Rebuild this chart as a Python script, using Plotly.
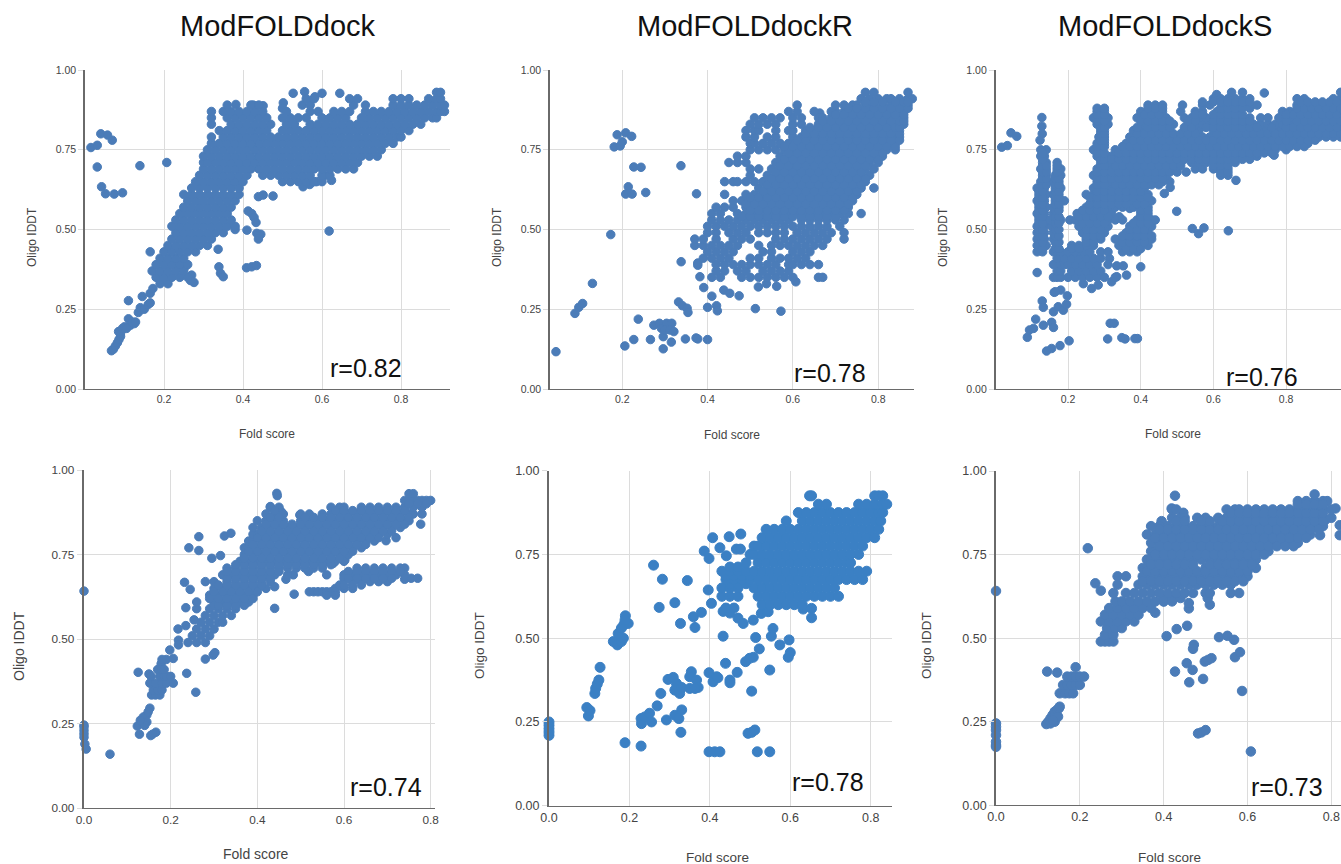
import plotly.graph_objects as go

titles = ["ModFOLDdock", "ModFOLDdockR", "ModFOLDdockS"]
r_labels = ["r=0.82", "r=0.78", "r=0.76", "r=0.74", "r=0.78", "r=0.73"]
x_ticks = [0.2, 0.4, 0.6, 0.8]
x_ticks_zero = [0.0, 0.2, 0.4, 0.6, 0.8]
y_ticks = [0.0, 0.25, 0.5, 0.75, 1.0]

# --- ModFOLDdock, top row: isolated points
p1_x = [.015,.031,.04,.057,.069,.031,.042,.052,.074,.095,.11,.139,.207,.165,.618,.38,.41,.413,.422,.428,.433,.435,.445,.439,.409,.422,.434,.337,.339,.343,.35,.27,.276,.267,.24,.253,.624,.607,.476,.451,.439,.552,.569,.586,.527,.556,.6,.582,.645,.502,.5,.382,.426,.451,
        .067,.072,.077,.082,.086,.09,.09,.085,.095,.11,.115,.125,.135,.14,.15,.16,.145,.165,.165,.172,.1,.105,.12,.128]
p1_y = [.757,.764,.8,.796,.78,.696,.634,.612,.611,.615,.277,.7,.71,.43,.495,.5,.498,.558,.55,.538,.522,.488,.485,.47,.38,.383,.387,.438,.383,.363,.352,.357,.334,.34,.389,.383,.654,.669,.605,.608,.603,.634,.641,.65,.927,.932,.927,.916,.927,.897,.88,.892,.89,.888,
        .12,.125,.135,.145,.155,.165,.175,.18,.19,.22,.2,.205,.24,.255,.25,.265,.29,.27,.3,.315,.195,.19,.21,.21]
# ModFOLDdock: dense cloud, each row is an Oligo lDDT level and the Fold scores seen there
p1_rows = [
 (.33,[.19,.21]),
 (.35,[.18,.2,.22,.24,.26]),
 (.37,[.17,.19,.21,.23,.25]),
 (.39,[.18,.2,.22,.24,.26]),
 (.41,[.19,.21,.23,.25]),
 (.43,[.2,.22,.24,.26,.28]),
 (.45,[.21,.23,.25,.27,.29,.31]),
 (.47,[.22,.24,.26,.28,.3,.32]),
 (.49,[.23,.25,.27,.29,.31,.33,.35]),
 (.51,[.22,.24,.26,.28,.3,.32,.34,.36,.38]),
 (.53,[.23,.25,.27,.29,.31,.33,.35,.37]),
 (.55,[.24,.26,.28,.3,.32,.34,.36]),
 (.57,[.25,.27,.29,.31,.33,.35,.37]),
 (.59,[.26,.28,.3,.32,.34,.36,.38]),
 (.61,[.25,.27,.29,.31,.33,.35,.37,.39]),
 (.63,[.27,.29,.31,.33,.35,.37,.39]),
 (.65,[.28,.3,.32,.34,.36,.38,.4,.5,.52,.54,.56,.58,.6]),
 (.67,[.29,.31,.33,.35,.37,.39,.41,.45,.47,.49,.51,.53,.55,.57,.6,.62]),
 (.69,[.3,.32,.34,.36,.38,.4,.42,.44,.46,.48,.5,.52,.54,.56,.58,.6,.62,.64,.66,.68]),
 (.71,[.3,.31,.33,.35,.37,.39,.41,.43,.45,.47,.49,.51,.53,.55,.57,.59,.61,.63,.65,.67,.69]),
 (.73,[.3,.32,.34,.36,.38,.4,.42,.44,.46,.48,.5,.52,.54,.56,.58,.6,.62,.64,.66,.68,.7,.72,.74]),
 (.75,[.31,.33,.35,.37,.39,.41,.43,.45,.47,.49,.51,.53,.55,.57,.59,.61,.63,.65,.67,.69,.71,.73,.75]),
 (.77,[.32,.34,.36,.38,.4,.42,.44,.46,.48,.5,.52,.54,.56,.58,.6,.62,.64,.66,.68,.7,.72,.74,.76,.78]),
 (.79,[.32,.35,.37,.39,.41,.43,.45,.47,.49,.51,.53,.55,.57,.59,.61,.63,.65,.67,.69,.71,.73,.75,.77,.79,.8]),
 (.81,[.34,.36,.38,.4,.42,.44,.46,.5,.52,.54,.56,.58,.6,.62,.64,.66,.68,.7,.72,.74,.76,.78,.8,.82]),
 (.83,[.32,.37,.39,.41,.43,.45,.47,.51,.53,.57,.59,.61,.63,.65,.67,.69,.71,.73,.75,.77,.79,.81,.83,.85]),
 (.85,[.32,.36,.38,.4,.42,.44,.46,.5,.52,.54,.56,.6,.62,.64,.66,.7,.72,.74,.76,.78,.8,.82,.84,.86,.88,.89]),
 (.87,[.32,.35,.37,.39,.41,.43,.45,.51,.57,.59,.63,.65,.67,.71,.73,.75,.77,.79,.81,.83,.85,.87,.89,.9,.91]),
 (.89,[.36,.42,.44,.55,.57,.68,.71,.78,.8,.82,.84,.86,.88,.9,.91]),
 (.91,[.56,.58,.67,.69,.78,.8,.82,.87,.89,.9]),
 (.93,[.89,.9]),
]

# --- ModFOLDdockR, top row
p2_x = [.0445,.089,.098,.107,.13,.173,.181,.195,.188,.2,.208,.222,.227,.244,.214,.208,.223,.255,.3375,.374,.206,.227,.2375,.266,.296,.315,.296,.348,.373,.377,.4,.274,.287,.292,.304,.316,.3,.312,.321,.332,.341,.352,.354,.4,.421,.423,.41,.391,.438,.452,.474,.512,.572,.338,.382,.377,.377,.519,.538,.562,.607,.663]
p2_y = [.117,.237,.256,.268,.331,.484,.759,.762,.797,.775,.803,.792,.696,.695,.634,.611,.611,.616,.7,.612,.135,.155,.219,.155,.126,.147,.164,.157,.16,.157,.155,.2,.206,.19,.206,.206,.185,.185,.18,.273,.261,.253,.24,.256,.261,.245,.291,.318,.31,.3,.292,.252,.244,.399,.352,.388,.395,.32,.33,.322,.336,.865]
p2_rows = [
 (.35,[.41,.43,.48,.5,.52,.54,.56,.58,.6,.66,.67]),
 (.37,[.42,.44,.47,.49,.53,.55,.57,.59]),
 (.39,[.42,.44,.46,.48,.5,.52,.54,.56,.59,.6,.62,.64,.66]),
 (.41,[.39,.41,.43,.45,.5,.52,.55,.57,.59,.61,.63]),
 (.43,[.4,.42,.44,.46,.53,.55,.6,.62,.64]),
 (.45,[.37,.39,.41,.43,.45,.47,.52,.55,.57,.59,.61,.63,.65,.67]),
 (.47,[.37,.39,.42,.46,.48,.5,.56,.58,.6,.62,.64,.66,.68,.72]),
 (.49,[.4,.42,.45,.47,.49,.52,.54,.56,.58,.61,.63,.65,.67,.69,.72]),
 (.51,[.4,.42,.44,.46,.48,.5,.52,.54,.56,.58,.6,.62,.64,.66,.68,.71]),
 (.53,[.41,.43,.45,.47,.49,.51,.53,.55,.57,.59,.62,.64,.66,.68,.7,.72]),
 (.55,[.41,.43,.47,.49,.51,.53,.55,.57,.59,.61,.63,.65,.67,.69,.71,.73,.76]),
 (.57,[.42,.44,.46,.49,.51,.53,.55,.57,.59,.61,.63,.65,.67,.69,.71,.73]),
 (.59,[.46,.48,.5,.52,.54,.56,.58,.6,.62,.64,.66,.68,.7,.72,.74]),
 (.61,[.44,.49,.51,.53,.55,.57,.59,.61,.63,.65,.67,.69,.71,.73,.75]),
 (.63,[.52,.54,.56,.58,.6,.62,.64,.66,.68,.7,.72,.74,.76,.79]),
 (.65,[.44,.46,.47,.49,.51,.53,.55,.57,.59,.61,.63,.65,.67,.69,.71,.73,.75,.77]),
 (.67,[.5,.54,.56,.58,.6,.62,.64,.66,.68,.7,.72,.74,.76,.78]),
 (.69,[.5,.52,.55,.57,.59,.61,.63,.65,.67,.69,.71,.73,.75,.77,.79]),
 (.71,[.45,.47,.49,.56,.58,.6,.62,.64,.66,.68,.7,.72,.74,.76,.78,.8]),
 (.73,[.47,.49,.57,.59,.61,.63,.65,.67,.69,.71,.73,.75,.77,.79,.81]),
 (.75,[.5,.52,.54,.56,.58,.6,.62,.64,.66,.68,.7,.72,.74,.76,.78,.8,.82,.84]),
 (.77,[.5,.51,.53,.55,.57,.59,.61,.63,.65,.67,.69,.71,.73,.75,.77,.79,.81,.83,.84]),
 (.79,[.49,.51,.54,.56,.6,.62,.64,.66,.68,.7,.72,.74,.76,.78,.8,.82,.84,.85]),
 (.81,[.49,.51,.52,.56,.59,.6,.63,.65,.67,.69,.71,.73,.75,.77,.79,.81,.83,.85]),
 (.83,[.5,.52,.54,.56,.6,.62,.66,.68,.7,.72,.74,.76,.78,.8,.82,.84,.86]),
 (.85,[.51,.53,.55,.57,.6,.62,.66,.67,.69,.71,.73,.75,.77,.79,.81,.83,.85,.86]),
 (.87,[.59,.61,.65,.69,.7,.72,.74,.76,.78,.8,.82,.84,.85,.86]),
 (.89,[.61,.7,.72,.74,.75,.77,.79,.81,.83,.85,.86,.87]),
 (.91,[.76,.78,.8,.82,.83,.85,.87,.88]),
 (.93,[.77,.79,.87]),
 (.54,[.48,.5,.52,.54,.56,.58,.6,.62,.64,.66,.68,.7]),
 (.56,[.5,.52,.54,.56,.58,.6,.62,.64,.66,.68,.7,.72]),
 (.58,[.49,.51,.53,.55,.57,.59,.61,.63,.65,.67,.69,.71,.73]),
 (.6,[.5,.52,.54,.56,.58,.6,.62,.64,.66,.68,.7,.72,.74]),
 (.62,[.53,.55,.57,.59,.61,.63,.65,.67,.69,.71,.73,.75]),
 (.64,[.54,.56,.58,.6,.62,.64,.66,.68,.7,.72,.74,.76]),
 (.66,[.55,.57,.59,.61,.63,.65,.67,.69,.71,.73,.75,.77]),
 (.68,[.56,.58,.6,.62,.64,.66,.68,.7,.72,.74,.76]),
 (.7,[.57,.59,.61,.63,.65,.67,.69,.71,.73,.75,.77]),
 (.72,[.58,.6,.62,.64,.66,.68,.7,.72,.74,.76,.78,.8]),
 (.74,[.59,.61,.63,.65,.67,.69,.71,.73,.75,.77,.79,.81]),
 (.76,[.58,.6,.62,.64,.66,.68,.7,.72,.74,.76,.78,.8,.82,.84]),
 (.78,[.61,.63,.65,.67,.69,.71,.73,.75,.77,.79,.81,.83,.85]),
 (.8,[.63,.65,.67,.69,.71,.73,.75,.77,.79,.81,.83,.85]),
 (.82,[.64,.66,.68,.7,.72,.74,.76,.78,.8,.82,.84,.85]),
 (.84,[.67,.69,.71,.73,.75,.77,.79,.81,.83,.85,.86]),
 (.86,[.7,.72,.74,.76,.78,.8,.82,.84,.86]),
 (.88,[.73,.75,.77,.79,.81,.83,.85,.87]),
 (.9,[.77,.79,.81,.84,.86,.87]),
]

# --- ModFOLDdockS, top row
p3_x = [.0175,.033,.043,.059,.088,.094,.105,.111,.132,.129,.132,.115,.141,.155,.178,.203,.155,.16,.16,.173,.187,.198,.196,.162,.309,.316,.327,.348,.357,.384,.391,.4,.361,.32,.334,.334,.352,.314,.499,.542,.559,.574,.641,.341,.37,.662,.525,.465,.481,.767,.609,.74,.128,.128,.129,.123,.18,.165,.242,.265,.283]
p3_y = [.758,.763,.803,.792,.162,.185,.19,.219,.2,.276,.256,.365,.119,.127,.136,.151,.209,.193,.242,.258,.247,.292,.266,.303,.157,.206,.206,.161,.157,.158,.158,.383,.357,.336,.352,.386,.386,.409,.557,.503,.487,.505,.496,.54,.566,.654,.68,.613,.632,.733,.923,.928,.851,.824,.8,.78,.31,.305,.33,.315,.326]
p3_rows = [
 (.35,[.16,.17,.18,.2,.22,.24,.26,.28,.3,.33]),
 (.37,[.17,.18,.21,.23,.25,.27,.29]),
 (.39,[.16,.18,.19,.2,.22,.24,.26,.28,.31]),
 (.41,[.17,.19,.21,.23,.25,.27,.29]),
 (.43,[.115,.13,.16,.18,.2,.22,.24,.26,.29,.31,.35,.37,.39]),
 (.45,[.115,.125,.14,.17,.21,.23,.25,.27,.34,.36,.38,.4,.42]),
 (.47,[.115,.125,.135,.16,.17,.25,.27,.29,.33,.35,.37,.39,.41,.43]),
 (.49,[.115,.125,.135,.16,.17,.24,.26,.28,.3,.36,.38,.4,.42]),
 (.51,[.115,.125,.135,.155,.17,.23,.25,.27,.29,.31,.37,.39,.41,.43]),
 (.53,[.12,.13,.14,.15,.165,.18,.205,.22,.24,.26,.28,.31,.33,.35,.39,.41,.43,.44]),
 (.55,[.115,.125,.135,.16,.17,.225,.245,.265,.285,.3,.32,.4,.42]),
 (.57,[.12,.13,.14,.16,.175,.25,.27,.29,.31,.33,.35,.38,.4,.42]),
 (.59,[.115,.125,.135,.165,.18,.19,.27,.29,.31,.33,.35,.37,.39,.41,.43]),
 (.61,[.12,.13,.14,.16,.175,.25,.27,.29,.31,.33,.35,.37,.4,.42]),
 (.63,[.115,.125,.135,.165,.18,.27,.29,.31,.33,.35,.37,.39,.41]),
 (.65,[.125,.14,.16,.175,.28,.3,.32,.34,.36,.38,.4,.42,.44,.46,.48]),
 (.67,[.13,.14,.165,.18,.27,.29,.31,.33,.35,.37,.39,.41,.43,.45,.47,.62,.64]),
 (.69,[.125,.14,.17,.18,.28,.3,.32,.34,.36,.38,.4,.42,.44,.46,.48,.5,.55,.57,.6,.62,.64]),
 (.71,[.13,.14,.17,.29,.31,.33,.35,.37,.39,.41,.43,.45,.47,.49,.51,.54,.56,.58,.61,.63,.66]),
 (.73,[.125,.135,.28,.3,.32,.34,.36,.38,.4,.42,.44,.46,.48,.5,.52,.54,.56,.58,.6,.62,.64,.66,.68,.7,.72]),
 (.75,[.125,.14,.27,.29,.33,.35,.37,.39,.41,.43,.45,.47,.49,.51,.53,.55,.57,.59,.61,.63,.65,.67,.69,.71,.73,.75,.77,.8]),
 (.77,[.28,.3,.36,.38,.4,.42,.44,.46,.48,.5,.52,.54,.56,.58,.6,.62,.64,.66,.68,.7,.72,.74,.76,.78,.8,.82,.84,.86]),
 (.79,[.285,.3,.37,.39,.41,.43,.45,.47,.49,.51,.53,.55,.57,.59,.61,.63,.65,.67,.69,.71,.73,.75,.77,.79,.81,.83,.85,.87,.89,.91,.93,.95]),
 (.81,[.29,.3,.38,.4,.42,.44,.46,.48,.52,.54,.56,.6,.62,.64,.66,.68,.7,.72,.74,.76,.78,.8,.82,.84,.86,.88,.9,.92,.94,.95]),
 (.83,[.28,.3,.31,.41,.43,.45,.47,.49,.53,.55,.57,.59,.61,.63,.65,.67,.69,.71,.73,.75,.77,.79,.81,.83,.85,.87,.89,.91,.93,.95]),
 (.85,[.27,.29,.31,.39,.41,.43,.45,.47,.52,.54,.56,.58,.6,.62,.64,.66,.68,.7,.73,.75,.78,.8,.82,.84,.86,.88,.9,.92,.94,.95]),
 (.87,[.28,.3,.4,.42,.44,.46,.51,.55,.57,.61,.63,.65,.67,.79,.81,.83,.85,.87,.89,.91,.93,.95]),
 (.89,[.42,.44,.46,.515,.57,.59,.63,.65,.67,.7,.72,.83,.85,.87,.89,.91,.93,.95]),
 (.91,[.6,.62,.64,.66,.68,.7,.83,.85,.93,.95]),
 (.93,[.65,.68,.95]),
 (.44,[.12,.13,.165,.175,.21,.23,.36,.38,.4]),
 (.46,[.12,.13,.165,.175,.25,.27,.35,.37,.39,.41]),
 (.48,[.12,.13,.165,.175,.25,.27,.29,.35,.37,.39,.41,.43]),
 (.5,[.12,.13,.165,.175,.25,.27,.29,.37,.39,.41]),
 (.52,[.12,.13,.165,.175,.24,.26,.28,.3,.38,.4,.42]),
 (.54,[.12,.13,.165,.175,.23,.25,.27,.29,.31,.4,.42]),
 (.56,[.12,.13,.165,.175,.24,.26,.28,.3,.4,.42]),
 (.58,[.12,.13,.165,.175,.26,.28,.3,.32,.34,.36,.39,.41]),
 (.6,[.12,.13,.165,.175,.26,.28,.3,.32,.34,.36,.38,.4,.42]),
 (.62,[.12,.13,.165,.175,.28,.3,.32,.34,.36,.38,.4]),
 (.64,[.13,.14,.165,.175,.28,.3,.33,.35,.37,.39,.41,.43,.45]),
 (.66,[.13,.14,.165,.175,.28,.3,.32,.34,.36,.38,.4,.42,.44,.46]),
 (.68,[.13,.14,.17,.28,.3,.32,.34,.36,.38,.4,.42,.44,.46,.48,.5,.62,.64]),
 (.7,[.13,.14,.17,.29,.3,.33,.35,.37,.39,.41,.43,.45,.47,.49,.51,.6,.62,.64]),
 (.72,[.13,.29,.3,.32,.34,.36,.38,.4,.42,.44,.46,.48,.5,.52,.54,.56,.58,.6,.62,.64,.66,.68,.7]),
 (.74,[.13,.28,.3,.34,.36,.38,.4,.42,.44,.46,.48,.5,.52,.54,.56,.58,.6,.62,.64,.66,.68,.7,.72,.74,.76]),
 (.76,[.28,.3,.35,.37,.39,.41,.43,.45,.47,.49,.51,.53,.55,.57,.59,.61,.63,.65,.67,.69,.71,.73,.75,.77,.79,.81,.83,.85]),
 (.78,[.29,.3,.38,.4,.42,.44,.46,.48,.5,.52,.54,.56,.58,.6,.62,.64,.66,.68,.7,.72,.74,.76,.78,.8,.82,.84,.86,.88]),
 (.8,[.29,.3,.39,.41,.43,.45,.47,.49,.51,.53,.55,.61,.63,.65,.67,.69,.71,.73,.75,.77,.79,.81,.83,.85,.87,.89,.91,.93,.95]),
 (.82,[.29,.3,.39,.42,.44,.46,.48,.52,.54,.58,.6,.62,.64,.66,.68,.7,.72,.76,.8,.82,.84,.86,.88,.9,.92,.94]),
 (.84,[.28,.3,.4,.42,.44,.46,.48,.53,.55,.6,.62,.64,.66,.68,.7,.8,.83,.85,.87,.89,.91,.93,.95]),
 (.86,[.28,.3,.41,.43,.45,.55,.57,.6,.62,.64,.66,.68,.8,.82,.84,.86,.88,.9,.92,.94]),
 (.88,[.28,.3,.42,.44,.46,.62,.64,.66,.68,.7,.83,.85,.87,.89,.91,.93,.95]),
 (.9,[.57,.6,.62,.64,.66,.68,.7,.84,.86,.88,.9,.92,.94]),
]

# --- ModFOLDdock, bottom row
p4_x = [0,0,0,0,0,0,.002,.005,.06,.125,.15,.128,.154,.166,.158,.123,.133,.137,.145,.152,.145,.14,.13,.148,.178,.198,.206,.218,.218,.217,.237,.258,.235,.235,.254,.245,.232,.242,.265,.265,.295,.315,.324,.339,.28,.298,.302,.777,.697,.72,.602,.575,.56,.485,.44,.44,.466,.483,.518,.445,.446,.43,.455,.498,.74,.755,.77]
p4_y = [.642,.246,.24,.23,.22,.21,.19,.175,.16,.402,.397,.219,.215,.225,.219,.243,.256,.27,.276,.296,.255,.245,.26,.285,.427,.468,.443,.497,.483,.53,.399,.343,.54,.593,.557,.647,.668,.77,.762,.803,.739,.747,.805,.813,.441,.453,.46,.84,.791,.8,.734,.724,.69,.633,.591,.655,.677,.69,.7,.931,.924,.892,.877,.867,.677,.68,.68]
p4_rows = [
 (.335,[.156,.165,.175]),
 (.35,[.16,.17,.18]),
 (.37,[.152,.165,.18,.19,.206]),
 (.39,[.155,.175,.185,.19,.2]),
 (.41,[.17,.18,.185]),
 (.44,[.18,.19]),
 (.49,[.24,.26,.28]),
 (.51,[.25,.27,.29]),
 (.53,[.26,.28,.3]),
 (.55,[.27,.29,.31,.32]),
 (.57,[.28,.3,.32,.34]),
 (.59,[.26,.29,.31,.33,.35]),
 (.61,[.26,.3,.32,.34,.36,.38]),
 (.63,[.29,.31,.33,.35,.37,.39]),
 (.65,[.3,.32,.34,.36,.38,.4,.42]),
 (.67,[.28,.3,.33,.35,.37,.39,.41,.43]),
 (.69,[.32,.34,.36,.38,.4,.42,.44,.47]),
 (.71,[.33,.35,.37,.39,.41,.43,.45,.47,.49,.51,.53,.55]),
 (.73,[.36,.38,.4,.42,.44,.46,.48,.5,.52,.54,.56,.58,.6]),
 (.75,[.37,.39,.41,.43,.45,.47,.49,.51,.53,.55,.57,.59,.61]),
 (.77,[.37,.38,.4,.42,.44,.46,.48,.5,.52,.54,.56,.58,.6,.62,.64]),
 (.79,[.38,.39,.41,.43,.45,.47,.49,.51,.53,.55,.57,.59,.61,.63,.65,.67]),
 (.81,[.39,.4,.42,.44,.46,.48,.5,.52,.54,.56,.58,.6,.62,.64,.66,.68,.7]),
 (.83,[.39,.41,.43,.45,.47,.49,.51,.53,.55,.57,.59,.61,.63,.65,.67,.69,.71,.73]),
 (.85,[.4,.42,.44,.46,.5,.52,.54,.56,.58,.6,.62,.64,.66,.68,.7,.72,.74,.75]),
 (.87,[.42,.44,.46,.5,.52,.55,.57,.59,.61,.63,.65,.67,.69,.71,.73,.75,.76,.78]),
 (.89,[.43,.45,.57,.59,.6,.64,.66,.68,.7,.72,.74,.76,.78]),
 (.91,[.74,.75,.76,.77,.78,.79,.8]),
 (.93,[.75,.76]),
 (.71,[.63,.65,.67,.69,.71,.73,.74]),
 (.69,[.6,.62,.64,.66,.68,.7,.72,.74]),
 (.67,[.62,.64,.66,.68,.7]),
 (.65,[.58,.6,.62]),
 (.64,[.52,.53,.54,.55,.56,.57,.58]),
 (.63,[.56,.58]),
 (.7,[.61,.63,.65,.67,.69,.71,.73]),
 (.68,[.6,.61,.63,.65,.67,.69,.71]),
 (.66,[.59,.6,.62,.64]),
 (.6,[.3,.31,.33,.35,.37]),
 (.62,[.29,.31,.33,.35,.37,.39]),
 (.64,[.3,.32,.34,.36,.38,.4]),
 (.66,[.31,.33,.35,.37,.39,.41]),
 (.68,[.33,.35,.37,.39,.41,.43]),
 (.7,[.33,.35,.37,.39,.41,.43,.45]),
 (.72,[.35,.37,.39,.41,.43,.45,.47,.49,.51,.53,.55,.57]),
 (.74,[.37,.39,.41,.43,.45,.47,.49,.51,.53,.55,.57,.59]),
 (.76,[.38,.4,.42,.44,.46,.48,.5,.52,.54,.56,.58,.6,.62]),
 (.78,[.39,.41,.43,.45,.47,.49,.51,.53,.55,.57,.59,.61,.63,.65]),
 (.8,[.4,.42,.44,.46,.48,.5,.52,.54,.56,.58,.6,.62,.64,.66,.68]),
 (.82,[.41,.43,.45,.47,.49,.51,.53,.55,.57,.59,.61,.63,.65,.67,.69,.71]),
 (.84,[.42,.44,.46,.48,.5,.52,.54,.56,.58,.6,.62,.64,.66,.68,.7,.72,.74]),
 (.86,[.43,.45,.51,.53,.55,.57,.59,.61,.63,.65,.67,.69,.71,.73,.75]),
 (.88,[.44,.58,.6,.62,.64,.66,.68,.7,.72,.74]),
 (.9,[.75,.77,.79]),
]

# --- ModFOLDdockR, bottom row
p5_x = [0,0,0,0,0,.094,.098,.102,.114,.116,.12,.124,.127,.16,.17,.18,.185,.172,.18,.186,.19,.197,.189,.189,.229,.229,.23,.238,.25,.255,.269,.278,.292,.313,.33,.323,.328,.296,.309,.317,.313,.325,.33,.35,.354,.35,.367,.371,.363,.398,.412,.425,.518,.549,.398,.408,.417,.42,.45,.45,.468,.439,.504,.495,.504,.512,.549,.489,.499,.508,.523,.514,.553,.557,.574,.597,.595,.6,.433,.26,.282,.344,.274,.313,.327,.359,.363,.379,.386,.398,.407,.425,.448,.477,.441,.466,.476,.632,.653,.653,.396,.404,.433,.45,.47,.483,.508,.528,.545]
p5_y = [.25,.24,.23,.22,.21,.293,.268,.284,.335,.35,.363,.375,.413,.49,.48,.49,.5,.514,.53,.54,.567,.544,.554,.188,.178,.26,.245,.265,.276,.25,.298,.335,.256,.27,.286,.26,.219,.377,.383,.365,.345,.335,.353,.35,.4,.385,.375,.353,.35,.161,.161,.161,.161,.161,.397,.37,.385,.382,.375,.367,.398,.425,.342,.216,.219,.226,.405,.43,.44,.443,.468,.502,.506,.529,.48,.495,.443,.457,.506,.718,.676,.672,.592,.606,.544,.564,.532,.577,.76,.738,.8,.77,.803,.811,.746,.766,.766,.587,.589,.561,.644,.604,.58,.575,.56,.544,.554,.574,.579]
p5_rows = [
 (.59,[.44,.46]),
 (.6,[.53,.55,.57,.59,.61,.63]),
 (.625,[.43,.45,.47,.52,.54,.56,.58,.6,.62,.64,.66,.68,.7,.72]),
 (.65,[.43,.45,.47,.51,.53,.55,.57,.59,.61,.63,.65,.67,.69,.71]),
 (.6625,[.45,.47,.49]),
 (.675,[.44,.46,.48,.5,.52,.54,.56,.58,.6,.62,.64,.66,.68,.7,.72,.74,.76,.78]),
 (.6875,[.44,.46,.48,.5]),
 (.7,[.43,.45,.47,.49,.51,.53,.55,.57,.59,.61,.63,.65,.67,.69,.71,.73,.75,.77,.79]),
 (.7125,[.45,.47]),
 (.725,[.49,.52,.54,.56,.58,.6,.62,.64,.66,.68,.7,.72,.74,.75]),
 (.75,[.5,.51,.53,.55,.57,.59,.61,.63,.65,.67,.69,.71,.73,.75,.77]),
 (.775,[.51,.52,.54,.56,.58,.6,.62,.64,.66,.68,.7,.72,.74,.76,.78]),
 (.8,[.53,.55,.57,.59,.61,.63,.65,.67,.69,.71,.73,.75,.77,.79,.81]),
 (.825,[.54,.56,.58,.6,.62,.64,.66,.68,.7,.72,.74,.76,.78,.8,.82]),
 (.85,[.59,.63,.65,.67,.69,.71,.73,.75,.77,.79,.81,.825]),
 (.875,[.62,.64,.66,.68,.7,.72,.74,.76,.78,.8,.82,.83]),
 (.9,[.67,.69,.77,.79,.81,.83,.84]),
 (.925,[.648,.653,.81,.82,.83]),
]

# --- ModFOLDdockS, bottom row
p6_x = [0,0,0,0,0,0,0,0,.122,.146,.219,.237,.25,.12,.125,.13,.135,.14,.145,.15,.152,.13,.14,.148,.135,.427,.419,.447,.395,.407,.427,.431,.456,.46,.455,.469,.461,.494,.472,.47,.498,.506,.514,.532,.552,.568,.57,.582,.587,.608,.482,.49,.5,.81,.82,.82,.785,.773,.38,.4,.42,.5,.56,.58,.51,.46,.505]
p6_y = [.641,.245,.235,.225,.21,.19,.18,.175,.4,.397,.769,.664,.642,.243,.25,.26,.27,.28,.285,.29,.295,.245,.25,.265,.255,.926,.888,.875,.85,.506,.4,.527,.537,.589,.425,.405,.368,.378,.48,.468,.43,.435,.44,.503,.507,.495,.443,.458,.342,.161,.215,.218,.225,.888,.838,.808,.853,.808,.576,.61,.615,.635,.635,.635,.6,.605,.62]
p6_rows = [
 (.335,[.152,.165,.175,.184]),
 (.36,[.16,.17,.18,.19,.2]),
 (.385,[.17,.18,.19,.2,.21]),
 (.413,[.19]),
 (.49,[.25,.26,.27,.28]),
 (.51,[.26,.28]),
 (.53,[.265,.285,.3]),
 (.55,[.25,.27,.29,.31,.33]),
 (.57,[.26,.28,.3,.32,.34]),
 (.59,[.27,.29,.31,.33,.35,.37]),
 (.61,[.285,.3,.32,.34,.36,.38,.4,.42]),
 (.62,[.4,.42,.44]),
 (.635,[.28,.31,.33,.35,.37,.39,.41,.43,.45,.47,.51]),
 (.66,[.29,.34,.36,.38,.4,.42,.44,.46,.48,.5,.52,.54,.56]),
 (.685,[.29,.31,.35,.37,.39,.41,.43,.45,.47,.49,.51,.53,.55,.57,.59,.6]),
 (.71,[.35,.36,.38,.4,.42,.44,.46,.5,.52,.54,.56,.58,.6,.62]),
 (.735,[.36,.37,.39,.41,.43,.45,.47,.49,.51,.53,.55,.57,.59,.61,.62]),
 (.76,[.37,.38,.4,.42,.44,.46,.48,.5,.52,.54,.56,.58,.6,.62,.64,.65]),
 (.785,[.37,.39,.41,.43,.45,.47,.49,.51,.53,.55,.57,.59,.61,.63,.65,.67,.69,.71,.72]),
 (.81,[.36,.38,.4,.42,.44,.46,.48,.5,.52,.54,.56,.58,.6,.62,.64,.66,.68,.7,.72,.74,.75]),
 (.835,[.37,.39,.41,.43,.45,.47,.49,.51,.53,.55,.57,.59,.61,.63,.65,.67,.69,.71,.73,.75,.77,.78]),
 (.86,[.42,.44,.45,.48,.5,.53,.55,.57,.59,.61,.63,.65,.67,.69,.71,.73,.75,.77,.78,.8]),
 (.885,[.42,.43,.55,.57,.58,.6,.62,.64,.66,.68,.7,.72,.74,.76,.78,.8]),
 (.91,[.72,.74,.76,.78,.79]),
 (.93,[.76]),
 (.7,[.36,.38,.4,.42,.44,.46,.48,.5,.52,.54,.56,.58,.6]),
 (.72,[.37,.39,.41,.43,.45,.47,.51,.53,.55,.57,.59,.61]),
 (.75,[.38,.4,.42,.44,.46,.48,.5,.52,.54,.56,.58,.6,.62,.64]),
 (.775,[.39,.41,.43,.45,.47,.49,.51,.53,.55,.57,.59,.61,.63,.65,.67,.69,.71]),
 (.8,[.38,.4,.42,.44,.46,.48,.5,.52,.54,.56,.58,.6,.62,.64,.66,.68,.7,.72,.74]),
 (.825,[.39,.41,.43,.45,.47,.49,.51,.53,.55,.57,.59,.61,.63,.65,.67,.69,.71,.73,.75,.77]),
 (.85,[.43,.45,.49,.51,.54,.56,.58,.6,.62,.64,.66,.68,.7,.72,.74,.76,.78]),
 (.875,[.56,.58,.6,.62,.64,.66,.68,.7,.72,.74,.76,.78]),
 (.9,[.72,.74,.76,.78]),
 (.67,[.35,.37,.39,.41,.43,.45,.47,.49,.51,.53,.55,.57,.59]),
]

def flatten(loose_x, loose_y, rows):
    xs, ys = list(loose_x), list(loose_y)
    for level, values in rows:
        xs.extend(values)
        ys.extend([level] * len(values))
    return xs, ys

W, H = 1341, 864
BLUE = "#4b7cb8"
BLUE_BRIGHT = "#3b80c4"
GRID = "#dcdcdc"
AXIS = "#6a6a6a"
FONT = "Liberation Sans, Arial, sans-serif"

panels = [
 dict(pts=(p1_x,p1_y,p1_rows), px=(85,449.6), py=(70,389), xr=(0,.923), ticks=x_ticks, ms=8.5, col=BLUE, fs=10.5, ts=12, yw=1.6, r=(365.5,368), xt=(267,434), yt=(32,237)),
 dict(pts=(p2_x,p2_y,p2_rows), px=(550,914), py=(70,389), xr=(.0305,.884), ticks=x_ticks, ms=8.5, col=BLUE, fs=10.5, ts=12, yw=1.6, r=(830,373), xt=(732,435), yt=(497,237)),
 dict(pts=(p3_x,p3_y,p3_rows), px=(995.7,1341), py=(70,389), xr=(.001,.951), ticks=x_ticks, ms=8.5, col=BLUE, fs=10.5, ts=12, yw=1.6, r=(1262,377), xt=(1173,434), yt=(943,237)),
 dict(pts=(p4_x,p4_y,p4_rows), px=(84,435), py=(470,808.3), xr=(0,.81), ticks=x_ticks_zero, ms=8.5, col=BLUE, fs=11.8, ts=14, yw=2.4, r=(386,787), xt=(256,854), yt=(19,646)),
 dict(pts=(p5_x,p5_y,p5_rows), px=(549,892), py=(470.7,805.7), xr=(0,.853), ticks=x_ticks_zero, ms=10, col=BLUE_BRIGHT, fs=12.5, ts=13.5, yw=2, r=(828,782), xt=(717,857), yt=(479,646)),
 dict(pts=(p6_x,p6_y,p6_rows), px=(996,1341), py=(471,805.3), xr=(0,.823), ticks=x_ticks_zero, ms=9.5, col=BLUE, fs=12.5, ts=13.5, yw=1.6, r=(1287,787), xt=(1169,857), yt=(926,646)),
]

fig = go.Figure()
annotations = []
for i, p in enumerate(panels, start=1):
    xs, ys = flatten(*p["pts"])
    suffix = "" if i == 1 else str(i)
    fig.add_trace(go.Scatter(
        x=xs, y=ys, mode="markers", xaxis="x"+suffix, yaxis="y"+suffix, cliponaxis=False,
        marker=dict(size=p["ms"], color=p["col"], line=dict(width=1, color=p["col"])),
        showlegend=False, hoverinfo="skip"))
    fig.update_layout({
        "xaxis"+suffix: dict(
            domain=[p["px"][0]/W, p["px"][1]/W], range=list(p["xr"]), anchor="y"+suffix, automargin=False,
            tickvals=p["ticks"], tickformat=".1f", showgrid=True, gridcolor=GRID, gridwidth=1.3,
            zeroline=False, showline=True, linecolor=AXIS, linewidth=1.3, ticks="",
            tickfont=dict(family=FONT, size=p["fs"], color="#444444")),
        "yaxis"+suffix: dict(
            domain=[1-p["py"][1]/H, 1-p["py"][0]/H], range=[0, 1], anchor="x"+suffix, automargin=False,
            tickvals=y_ticks, tickformat=".2f", showgrid=True, gridcolor=GRID, gridwidth=1.3,
            zeroline=False, showline=True, linecolor=AXIS, linewidth=p["yw"], ticks="outside", ticklen=5,
            tickcolor=GRID, tickfont=dict(family=FONT, size=p["fs"], color="#444444")),
    })
    annotations.append(dict(text=r_labels[i-1], x=p["r"][0]/W, y=1-p["r"][1]/H, xref="paper", yref="paper",
                            showarrow=False, xanchor="center", yanchor="middle",
                            font=dict(family=FONT, size=25, color="#111111")))
    annotations.append(dict(text="Fold score", x=p["xt"][0]/W, y=1-p["xt"][1]/H, xref="paper", yref="paper",
                            showarrow=False, xanchor="center", yanchor="middle",
                            font=dict(family=FONT, size=p["ts"], color="#444444")))
    annotations.append(dict(text="Oligo IDDT", x=p["yt"][0]/W, y=1-p["yt"][1]/H, xref="paper", yref="paper",
                            showarrow=False, xanchor="center", yanchor="middle", textangle=-90,
                            font=dict(family=FONT, size=p["ts"], color="#444444")))

for text, cx in zip(titles, [278, 745, 1165]):
    annotations.append(dict(text=text, x=cx/W, y=1-26/H, xref="paper", yref="paper", showarrow=False,
                            xanchor="center", yanchor="middle", font=dict(family=FONT, size=29, color="#111111")))

fig.update_layout(width=W, height=H, margin=dict(l=0, r=0, t=0, b=0, autoexpand=False), paper_bgcolor="white",
                  plot_bgcolor="white", annotations=annotations)
fig.write_html("out.html", config=dict(displayModeBar=False),
               post_script="document.body.style.margin='0';document.body.style.overflow='hidden';")
